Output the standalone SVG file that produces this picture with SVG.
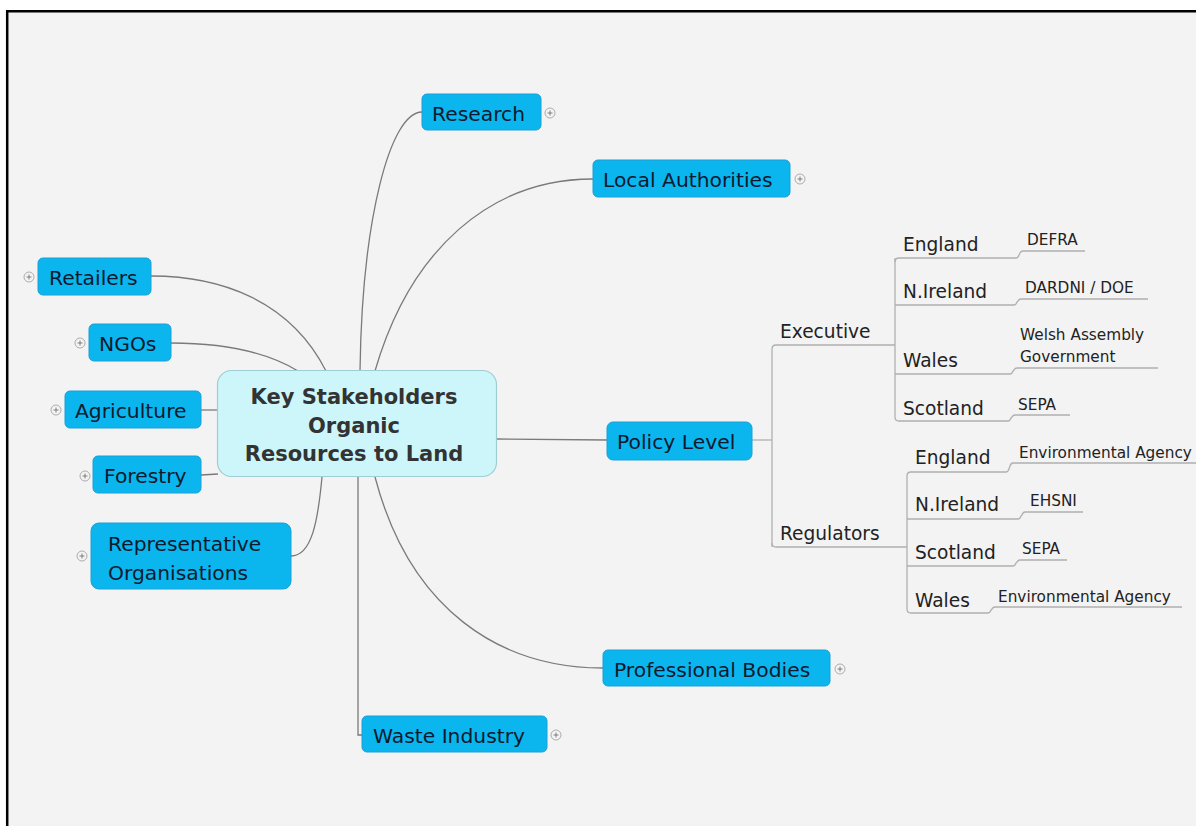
<svg xmlns="http://www.w3.org/2000/svg" width="1196" height="826" viewBox="0 0 1196 826">
<style>
.bg{fill:#f3f3f3}
.frame{fill:none;stroke:#000;stroke-width:2.5}
.topic{fill:#0bb5ee;stroke:#1aa0d8;stroke-width:1}
.central{fill:#cdf6fb;stroke:#9fcdd6;stroke-width:1.2}
.t{font-family:"DejaVu Sans",sans-serif;font-size:20.3px;fill:#0b1a2e}
.c{font-family:"DejaVu Sans",sans-serif;font-size:21px;font-weight:bold;fill:#333;text-anchor:middle}
.s{font-family:"DejaVu Sans",sans-serif;font-size:18.6px;fill:#222}
.x{font-family:"DejaVu Sans",sans-serif;font-size:15.3px;fill:#222}
.l{fill:none;stroke:#7a7a7a;stroke-width:1.3}
.u{fill:none;stroke:#b0b0b0;stroke-width:1.3}
.e{fill:#f3f3f3;stroke:#999;stroke-width:0.8}
.ep{stroke:#666;stroke-width:0.8}
</style>
<defs>
<g id="exp"><circle class="e" cx="0" cy="0" r="5"/><path class="ep" d="M-2.5,0H2.5M0,-2.5V2.5"/></g>
</defs>
<rect x="0" y="0" width="1196" height="826" fill="#fff"/>
<rect class="bg" x="7" y="11" width="1189" height="815"/>
<path class="frame" d="M7.2,826V11.2H1196"/>

<g id="connectors">
<path class="l" d="M360,371C362,220 390,112 422,112"/>
<path class="l" d="M375,371C410,250 490,179 593,179"/>
<path class="l" d="M326,371C290,300 220,276 151,276"/>
<path class="l" d="M298,371C260,348 210,343 171,343"/>
<path class="l" d="M201,410H218"/>
<path class="l" d="M201,475L218,474"/>
<path class="l" d="M291,556C312,556 318,520 322,477"/>
<path class="l" d="M358,477V735H362"/>
<path class="l" d="M375,477C410,610 500,668 603,668"/>
<path class="l" d="M497,439L607,440"/>
<path class="u" d="M752,440H772"/>
<path class="u" d="M772,547V349Q772,345 776,345H895"/>
<path class="u" d="M772,543Q772,547 776,547H907"/>
<path class="u" d="M895,258V417"/>
<path class="u" d="M895,262Q895,258 899,258H1016Q1018,258 1019,255L1020,253Q1021,251 1023,251H1085"/>
<path class="u" d="M895,305H1014Q1016,305 1017,302L1018,301Q1019,299 1021,299H1148"/>
<path class="u" d="M895,374H1010Q1012,374 1013,371L1014,370Q1015,368 1017,368H1158"/>
<path class="u" d="M895,417Q895,421 899,421H1008Q1010,421 1011,418L1012,417Q1013,415 1015,415H1070"/>
<path class="u" d="M907,476V609"/>
<path class="u" d="M907,476Q907,472 911,472H1006Q1008,472 1009,469L1010,466Q1011,463 1013,463H1196"/>
<path class="u" d="M907,519H1018Q1020,519 1021,516L1022,515Q1023,512 1025,512H1083"/>
<path class="u" d="M907,566H1013Q1015,566 1016,563L1017,562Q1018,560 1020,560H1067"/>
<path class="u" d="M907,609Q907,613 911,613H988Q990,613 991,610L992,609Q993,607 995,607H1182"/>
</g>

<g id="central">
<rect class="central" x="217.5" y="370.5" width="279" height="106" rx="14"/>
<text class="c" x="354" y="404">Key Stakeholders</text>
<text class="c" x="354" y="433">Organic</text>
<text class="c" x="354" y="461">Resources to Land</text>
</g>

<g id="research">
<rect class="topic" x="422" y="94" width="119" height="36" rx="5"/>
<text class="t" x="432" y="121">Research</text>
<use href="#exp" x="550" y="113"/>
</g>
<g id="local-authorities">
<rect class="topic" x="593" y="160" width="197" height="37" rx="5"/>
<text class="t" x="603" y="187">Local Authorities</text>
<use href="#exp" x="800" y="179"/>
</g>
<g id="retailers">
<rect class="topic" x="38" y="258" width="113" height="37" rx="5"/>
<text class="t" x="49" y="285">Retailers</text>
<use href="#exp" x="29" y="277"/>
</g>
<g id="ngos">
<rect class="topic" x="89" y="324" width="82" height="37" rx="5"/>
<text class="t" x="99" y="351">NGOs</text>
<use href="#exp" x="80" y="343"/>
</g>
<g id="agriculture">
<rect class="topic" x="65" y="391" width="136" height="37" rx="5"/>
<text class="t" x="75" y="418">Agriculture</text>
<use href="#exp" x="56" y="410"/>
</g>
<g id="forestry">
<rect class="topic" x="93" y="456" width="108" height="37" rx="5"/>
<text class="t" x="104" y="483">Forestry</text>
<use href="#exp" x="85" y="476"/>
</g>
<g id="representative-organisations">
<rect class="topic" x="91" y="523" width="200" height="66" rx="8"/>
<text class="t" x="108" y="551">Representative</text>
<text class="t" x="108" y="580">Organisations</text>
<use href="#exp" x="82" y="556"/>
</g>
<g id="policy-level">
<rect class="topic" x="607" y="422" width="145" height="38" rx="6"/>
<text class="t" x="617" y="449">Policy Level</text>
</g>
<g id="professional-bodies">
<rect class="topic" x="603" y="650" width="227" height="36" rx="5"/>
<text class="t" x="614" y="677">Professional Bodies</text>
<use href="#exp" x="840" y="669"/>
</g>
<g id="waste-industry">
<rect class="topic" x="362" y="716" width="185" height="36" rx="5"/>
<text class="t" x="373" y="743">Waste Industry</text>
<use href="#exp" x="556" y="735"/>
</g>

<g id="executive">
<text class="s" x="780" y="338">Executive</text>
</g>
<g id="exec-england"><text class="s" x="903" y="251">England</text><text class="x" x="1027" y="245">DEFRA</text></g>
<g id="exec-nireland"><text class="s" x="903" y="298">N.Ireland</text><text class="x" x="1025" y="293">DARDNI / DOE</text></g>
<g id="exec-wales"><text class="s" x="903" y="367">Wales</text><text class="x" x="1020" y="340">Welsh Assembly</text><text class="x" x="1020" y="362">Government</text></g>
<g id="exec-scotland"><text class="s" x="903" y="415">Scotland</text><text class="x" x="1018" y="410">SEPA</text></g>

<g id="regulators">
<text class="s" x="780" y="540">Regulators</text>
</g>
<g id="reg-england"><text class="s" x="915" y="464">England</text><text class="x" x="1019" y="458">Environmental Agency</text></g>
<g id="reg-nireland"><text class="s" x="915" y="511">N.Ireland</text><text class="x" x="1030" y="506">EHSNI</text></g>
<g id="reg-scotland"><text class="s" x="915" y="559">Scotland</text><text class="x" x="1022" y="554">SEPA</text></g>
<g id="reg-wales"><text class="s" x="915" y="607">Wales</text><text class="x" x="998" y="602">Environmental Agency</text></g>
</svg>
